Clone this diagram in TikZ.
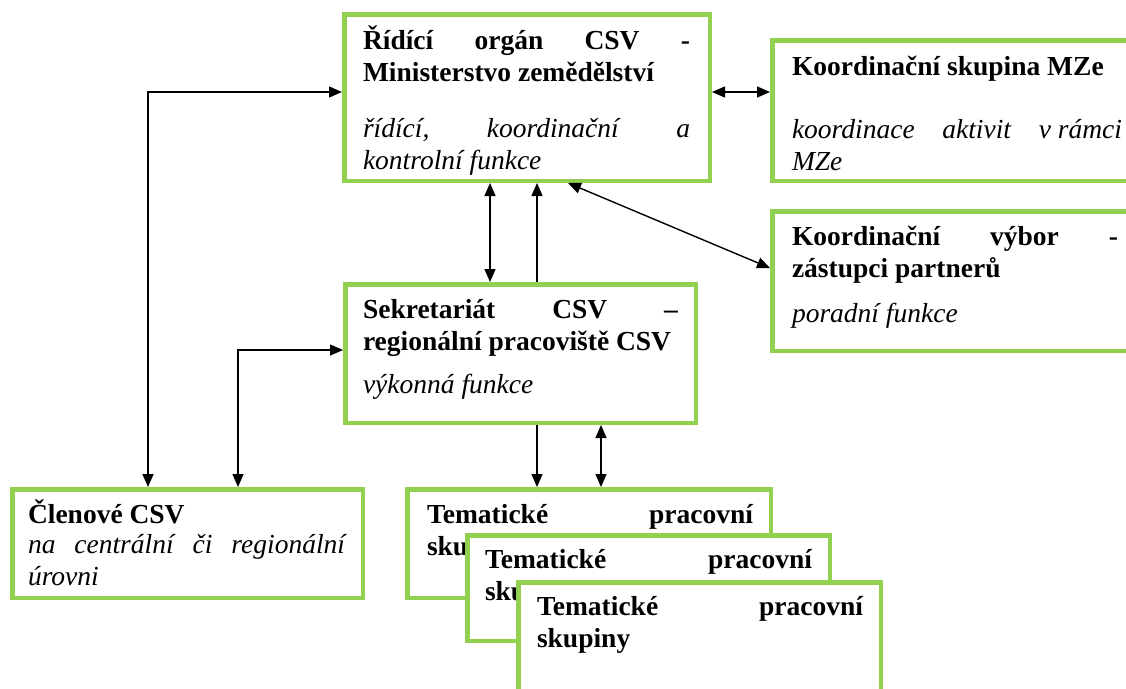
\documentclass[tikz,border=0pt]{standalone}
\usepackage{fontspec}
\setmainfont{Liberation Serif}
\usetikzlibrary{arrows.meta,calc}
\definecolor{boxgreen}{RGB}{146,208,80}
\begin{document}
\begin{tikzpicture}[x=1pt,y=-1pt,
  box/.style={draw=boxgreen,line width=4.5pt,fill=white,anchor=north west,inner sep=0pt},
  txt/.style={anchor=base west,inner sep=0pt,outer sep=0pt,font=\fontsize{27.5}{32}\selectfont},
  conn/.style={draw=black,line width=1.4pt},
  tip/.tip={Triangle[length=13pt,width=11pt]},
  dbl/.style={conn,tip-tip},
  one/.style={conn,-tip}]
\useasboundingbox (0,0) rectangle (1126,688);
\clip (0,0) rectangle (1126,688);
\fill[white] (0,0) rectangle (1126,688);

% boxes
\node[box,minimum width=365.5pt,minimum height=166.5pt] (rid) at (342,12) {};
\node[box,minimum width=380pt,minimum height=140.5pt] (ksk) at (770,38) {};
\node[box,minimum width=380pt,minimum height=139.5pt] (kvy) at (770,209) {};
\node[box,minimum width=350.5pt,minimum height=138.5pt] (sek) at (343,282) {};
\node[box,minimum width=350.5pt,minimum height=108.5pt] (cle) at (10,487) {};
\node[box,minimum width=363.5pt,minimum height=108.5pt] (tp1) at (405,487) {};
\node[txt] (tp1t) at (427,523) {\parbox[t]{326pt}{\bfseries Tematické\hfill pracovní\\skupiny}};
\node[box,minimum width=362.5pt,minimum height=105.5pt] (tp2) at (465,533) {};
\node[txt] (tp2t) at (485,568) {\parbox[t]{327pt}{\bfseries Tematické\hfill pracovní\\skupiny}};
\node[box,minimum width=362.5pt,minimum height=200pt] (tp3) at (516,580) {};
\node[txt] (tp3t) at (537,615) {\parbox[t]{326pt}{\bfseries Tematické\hfill pracovní\\skupiny}};

% texts
\node[txt] (ridh) at (363,49) {\parbox[t]{327pt}{\bfseries Řídící\hfill orgán\hfill CSV\hfill -\\Ministerstvo zemědělství}};
\node[txt] (ridi) at (363,137) {\parbox[t]{327pt}{\itshape řídící,\hfill koordinační\hfill a\\kontrolní funkce}};
\node[txt] (kskh) at (792,75) {\bfseries Koordinační skupina MZe};
\node[txt] (kski) at (792,138) {\parbox[t]{330pt}{\itshape koordinace\hfill aktivit\hfill v~rámci\\MZe}};
\node[txt] (kvyh) at (792,245) {\parbox[t]{326pt}{\bfseries Koordinační\hfill výbor\hfill -\\zástupci partnerů}};
\node[txt] (kvyi) at (792,322) {\itshape poradní funkce};
\node[txt] (sekh) at (363,318) {\parbox[t]{315pt}{\bfseries Sekretariát\hfill CSV\hfill –\\regionální pracoviště CSV}};
\node[txt] (seki) at (363,393) {\itshape výkonná funkce};
\node[txt] (cleh) at (28,523) {\bfseries Členové CSV};
\node[txt] (clei) at (28,553) {\parbox[t]{317pt}{\itshape na\hfill centrální\hfill či\hfill regionální\\úrovni}};

% connectors
\draw[dbl] ($(rid.north west)+(0,80)$) -| ($(cle.north west)+(138,0)$);
\draw[dbl] ($(rid.north east)+(0,80)$) -- ($(ksk.north west)+(0,54)$);
\draw[dbl] ($(rid.south west)+(148,0)$) -- ($(sek.north west)+(147,0)$);
\draw[one] ($(sek.north west)+(194,0)$) -- ($(rid.south west)+(195,0)$);
\draw[dbl] ($(rid.south west)+(226,0)$) -- ($(kvy.north west)+(0,59)$);
\draw[dbl] ($(sek.north west)+(0,68)$) -| ($(cle.north west)+(228,0)$);
\draw[one] ($(sek.south west)+(194,0)$) -- ($(tp1.north west)+(132,0)$);
\draw[dbl] ($(sek.south west)+(258,0)$) -- ($(tp1.north west)+(196,0)$);
\end{tikzpicture}
\end{document}
